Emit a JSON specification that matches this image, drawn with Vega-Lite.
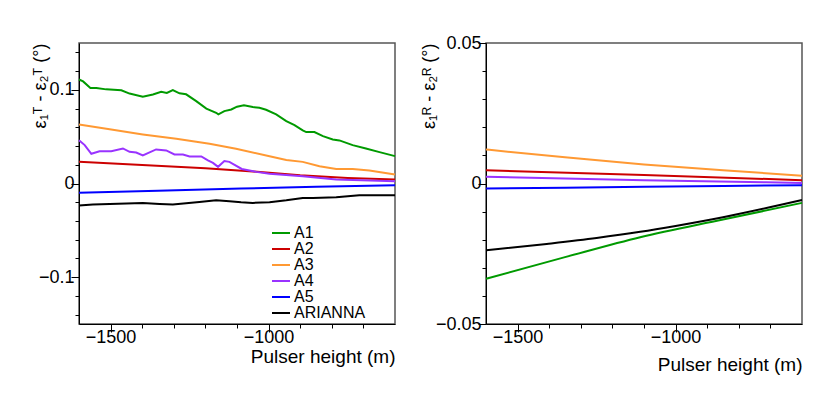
{
  "$schema": "https://vega.github.io/schema/vega-lite/v6.json",
  "background": "white",
  "padding": {"left": 30, "top": 33, "right": 5, "bottom": 5},
  "spacing": 91,
  "bounds": "flush",
  "config": {
    "font": "Liberation Sans",
    "view": {"stroke": "#555555", "strokeWidth": 1.5},
    "axis": {
      "grid": false,
      "domainColor": "black",
      "domainWidth": 1,
      "tickColor": "black",
      "tickWidth": 1,
      "labelColor": "black",
      "titleColor": "black",
      "labelFont": "Liberation Sans",
      "labelFontSize": 18,
      "titleFont": "Liberation Sans",
      "titleFontWeight": "normal"
    }
  },
  "resolve": {"scale": {"color": "independent"}},
  "datasets": {
    "left": [
      {"series": "A1", "x": -1600, "y": 0.111},
      {"series": "A1", "x": -1587, "y": 0.109},
      {"series": "A1", "x": -1564, "y": 0.102},
      {"series": "A1", "x": -1545, "y": 0.102},
      {"series": "A1", "x": -1514, "y": 0.1005},
      {"series": "A1", "x": -1466, "y": 0.0995},
      {"series": "A1", "x": -1440, "y": 0.096},
      {"series": "A1", "x": -1398, "y": 0.0926},
      {"series": "A1", "x": -1366, "y": 0.095},
      {"series": "A1", "x": -1340, "y": 0.098},
      {"series": "A1", "x": -1322, "y": 0.0966},
      {"series": "A1", "x": -1303, "y": 0.0998},
      {"series": "A1", "x": -1282, "y": 0.0963},
      {"series": "A1", "x": -1261, "y": 0.0952},
      {"series": "A1", "x": -1229, "y": 0.088},
      {"series": "A1", "x": -1197, "y": 0.080},
      {"series": "A1", "x": -1166, "y": 0.0755},
      {"series": "A1", "x": -1159, "y": 0.0738},
      {"series": "A1", "x": -1140, "y": 0.0773},
      {"series": "A1", "x": -1118, "y": 0.079},
      {"series": "A1", "x": -1100, "y": 0.082},
      {"series": "A1", "x": -1078, "y": 0.0835},
      {"series": "A1", "x": -1050, "y": 0.0816},
      {"series": "A1", "x": -1029, "y": 0.0809},
      {"series": "A1", "x": -1008, "y": 0.0787},
      {"series": "A1", "x": -976, "y": 0.0738},
      {"series": "A1", "x": -944, "y": 0.0666},
      {"series": "A1", "x": -918, "y": 0.0624},
      {"series": "A1", "x": -892, "y": 0.0567},
      {"series": "A1", "x": -881, "y": 0.0549},
      {"series": "A1", "x": -855, "y": 0.0549},
      {"series": "A1", "x": -828, "y": 0.0506},
      {"series": "A1", "x": -797, "y": 0.047},
      {"series": "A1", "x": -776, "y": 0.046},
      {"series": "A1", "x": -734, "y": 0.041},
      {"series": "A1", "x": -692, "y": 0.0374},
      {"series": "A1", "x": -649, "y": 0.0335},
      {"series": "A1", "x": -600, "y": 0.0292},
      {"series": "A2", "x": -1600, "y": 0.0231},
      {"series": "A2", "x": -1400, "y": 0.0198},
      {"series": "A2", "x": -1200, "y": 0.0162},
      {"series": "A2", "x": -1050, "y": 0.0128},
      {"series": "A2", "x": -900, "y": 0.0088},
      {"series": "A2", "x": -750, "y": 0.0060},
      {"series": "A2", "x": -600, "y": 0.0043},
      {"series": "A3", "x": -1600, "y": 0.0629},
      {"series": "A3", "x": -1503, "y": 0.0578},
      {"series": "A3", "x": -1398, "y": 0.0524},
      {"series": "A3", "x": -1292, "y": 0.0477},
      {"series": "A3", "x": -1187, "y": 0.0424},
      {"series": "A3", "x": -1103, "y": 0.037},
      {"series": "A3", "x": -997, "y": 0.0292},
      {"series": "A3", "x": -944, "y": 0.0252},
      {"series": "A3", "x": -892, "y": 0.0231},
      {"series": "A3", "x": -839, "y": 0.0185},
      {"series": "A3", "x": -786, "y": 0.0156},
      {"series": "A3", "x": -734, "y": 0.0156},
      {"series": "A3", "x": -681, "y": 0.0139},
      {"series": "A3", "x": -600, "y": 0.0096},
      {"series": "A4", "x": -1600, "y": 0.0463},
      {"series": "A4", "x": -1582, "y": 0.041},
      {"series": "A4", "x": -1561, "y": 0.0317},
      {"series": "A4", "x": -1535, "y": 0.0345},
      {"series": "A4", "x": -1498, "y": 0.0345},
      {"series": "A4", "x": -1461, "y": 0.0374},
      {"series": "A4", "x": -1440, "y": 0.0338},
      {"series": "A4", "x": -1419, "y": 0.0331},
      {"series": "A4", "x": -1398, "y": 0.0299},
      {"series": "A4", "x": -1356, "y": 0.0364},
      {"series": "A4", "x": -1324, "y": 0.0353},
      {"series": "A4", "x": -1298, "y": 0.031},
      {"series": "A4", "x": -1271, "y": 0.031},
      {"series": "A4", "x": -1250, "y": 0.0289},
      {"series": "A4", "x": -1213, "y": 0.0289},
      {"series": "A4", "x": -1192, "y": 0.0246},
      {"series": "A4", "x": -1176, "y": 0.022},
      {"series": "A4", "x": -1160, "y": 0.0178},
      {"series": "A4", "x": -1140, "y": 0.0239},
      {"series": "A4", "x": -1124, "y": 0.0231},
      {"series": "A4", "x": -1085, "y": 0.0155},
      {"series": "A4", "x": -1039, "y": 0.0124},
      {"series": "A4", "x": -997, "y": 0.0103},
      {"series": "A4", "x": -892, "y": 0.0078},
      {"series": "A4", "x": -786, "y": 0.0043},
      {"series": "A4", "x": -600, "y": 0.0025},
      {"series": "A5", "x": -1600, "y": -0.010},
      {"series": "A5", "x": -1350, "y": -0.0077},
      {"series": "A5", "x": -1087, "y": -0.0053},
      {"series": "A5", "x": -850, "y": -0.0035},
      {"series": "A5", "x": -600, "y": -0.0018},
      {"series": "ARIANNA", "x": -1600, "y": -0.0235},
      {"series": "ARIANNA", "x": -1556, "y": -0.0225},
      {"series": "ARIANNA", "x": -1503, "y": -0.0218},
      {"series": "ARIANNA", "x": -1450, "y": -0.0214},
      {"series": "ARIANNA", "x": -1398, "y": -0.0207},
      {"series": "ARIANNA", "x": -1345, "y": -0.0218},
      {"series": "ARIANNA", "x": -1303, "y": -0.0225},
      {"series": "ARIANNA", "x": -1261, "y": -0.021},
      {"series": "ARIANNA", "x": -1219, "y": -0.0197},
      {"series": "ARIANNA", "x": -1166, "y": -0.0179},
      {"series": "ARIANNA", "x": -1124, "y": -0.019},
      {"series": "ARIANNA", "x": -1087, "y": -0.020},
      {"series": "ARIANNA", "x": -1050, "y": -0.0207},
      {"series": "ARIANNA", "x": -997, "y": -0.020},
      {"series": "ARIANNA", "x": -944, "y": -0.0179},
      {"series": "ARIANNA", "x": -892, "y": -0.0154},
      {"series": "ARIANNA", "x": -860, "y": -0.0154},
      {"series": "ARIANNA", "x": -786, "y": -0.0147},
      {"series": "ARIANNA", "x": -713, "y": -0.0125},
      {"series": "ARIANNA", "x": -600, "y": -0.0125}
    ],
    "right": [
      {"series": "A1", "x": -1600, "y": -0.0339},
      {"series": "A1", "x": -1350, "y": -0.0262},
      {"series": "A1", "x": -1112, "y": -0.0191},
      {"series": "A1", "x": -850, "y": -0.0128},
      {"series": "A1", "x": -600, "y": -0.0069},
      {"series": "A2", "x": -1600, "y": 0.0047},
      {"series": "A2", "x": -1100, "y": 0.0030},
      {"series": "A2", "x": -600, "y": 0.0012},
      {"series": "A3", "x": -1600, "y": 0.0121},
      {"series": "A3", "x": -1350, "y": 0.0093},
      {"series": "A3", "x": -1100, "y": 0.0068},
      {"series": "A3", "x": -850, "y": 0.0047},
      {"series": "A3", "x": -600, "y": 0.0028},
      {"series": "A4", "x": -1600, "y": 0.0024},
      {"series": "A4", "x": -1100, "y": 0.0012},
      {"series": "A4", "x": -600, "y": 0.0002},
      {"series": "A5", "x": -1600, "y": -0.0018},
      {"series": "A5", "x": -1100, "y": -0.0012},
      {"series": "A5", "x": -600, "y": -0.0006},
      {"series": "ARIANNA", "x": -1600, "y": -0.0238},
      {"series": "ARIANNA", "x": -1408, "y": -0.0215},
      {"series": "ARIANNA", "x": -1250, "y": -0.0194},
      {"series": "ARIANNA", "x": -1112, "y": -0.0172},
      {"series": "ARIANNA", "x": -1000, "y": -0.0151},
      {"series": "ARIANNA", "x": -850, "y": -0.0120},
      {"series": "ARIANNA", "x": -600, "y": -0.0059}
    ]
  },
  "hconcat": [
    {
      "width": 316,
      "height": 281,
      "data": {"name": "left"},
      "resolve": {"axis": {"x": "independent", "y": "independent"}},
      "layer": [
        {
          "mark": {"type": "line", "strokeWidth": 2},
          "encoding": {
            "x": {
              "field": "x", "type": "quantitative",
              "scale": {"domain": [-1600, -600], "nice": false, "zero": false},
              "axis": {
                "orient": "bottom",
                "title": "Pulser height (m)",
                "values": [-1500, -1000],
                "format": "d",
                "tickSize": 8,
                "labelPadding": -4,
                "encode": {"ticks": {"update": {"y2": {"value": -8}}}},
                "titleFontSize": 19,
                "titleAnchor": "end", "titleAlign": "right", "titleBaseline": "middle",
                "titleX": 316, "titleY": 32
              }
            },
            "y": {
              "field": "y", "type": "quantitative",
              "scale": {"domain": [-0.15, 0.15], "nice": false, "zero": false},
              "axis": {
                "orient": "left",
                "title": "ε₁ᵀ - ε₂ᵀ (°)",
                "values": [-0.1, 0, 0.1],
                "format": ".2~f",
                "tickSize": 8,
                "labelPadding": -3,
                "encode": {"ticks": {"update": {"x2": {"value": 8}}}},
                "titleFontSize": 18,
                "titleAngle": -90, "titleAlign": "right", "titleBaseline": "middle",
                "titleX": -39, "titleY": 0
              }
            },
            "color": {
              "field": "series", "type": "nominal",
              "scale": {"domain": ["A1", "A2", "A3", "A4", "A5", "ARIANNA"], "range": ["#009a00", "#cc0000", "#ff9933", "#9933ff", "#0000ff", "#000000"]},
              "legend": {
                "orient": "none", "legendX": 194, "legendY": 182,
                "title": null, "symbolType": "M-1.8,0H1.8", "symbolSize": 100, "symbolStrokeWidth": 2,
                "labelFontSize": 16, "labelOffset": 5, "rowPadding": 0, "padding": 0,
                "labelColor": "black", "labelFont": "Liberation Sans"
              }
            }
          }
        },
        {
          "mark": {"type": "line", "opacity": 0},
          "encoding": {
            "x": {
              "field": "x", "type": "quantitative",
              "axis": {
                "orient": "bottom", "title": null, "labels": false, "domain": false,
                "values": [-1400, -1300, -1200, -1100, -900, -800, -700],
                "tickSize": 4,
                "encode": {"ticks": {"update": {"y2": {"value": -4}}}}
              }
            },
            "y": {
              "field": "y", "type": "quantitative",
              "axis": {
                "orient": "left", "title": null, "labels": false, "domain": false,
                "values": [-0.14, -0.12, -0.08, -0.06, -0.04, -0.02, 0.02, 0.04, 0.06, 0.08, 0.12, 0.14],
                "tickSize": 4,
                "encode": {"ticks": {"update": {"x2": {"value": 4}}}}
              }
            },
            "detail": {"field": "series", "type": "nominal"}
          }
        }
      ]
    },
    {
      "width": 316,
      "height": 281,
      "data": {"name": "right"},
      "resolve": {"axis": {"x": "independent", "y": "independent"}},
      "layer": [
        {
          "mark": {"type": "line", "strokeWidth": 2, "interpolate": "monotone"},
          "encoding": {
            "x": {
              "field": "x", "type": "quantitative",
              "scale": {"domain": [-1600, -600], "nice": false, "zero": false},
              "axis": {
                "orient": "bottom",
                "title": "Pulser height (m)",
                "values": [-1500, -1000],
                "format": "d",
                "tickSize": 8,
                "labelPadding": -4,
                "encode": {"ticks": {"update": {"y2": {"value": -8}}}},
                "titleFontSize": 19,
                "titleAnchor": "end", "titleAlign": "right", "titleBaseline": "middle",
                "titleX": 316, "titleY": 40
              }
            },
            "y": {
              "field": "y", "type": "quantitative",
              "scale": {"domain": [-0.05, 0.05], "nice": false, "zero": false},
              "axis": {
                "orient": "left",
                "title": "ε₁ᴿ - ε₂ᴿ (°)",
                "values": [-0.05, 0, 0.05],
                "format": ".2~f",
                "tickSize": 8,
                "labelPadding": -3,
                "encode": {"ticks": {"update": {"x2": {"value": 8}}}},
                "titleFontSize": 18,
                "titleAngle": -90, "titleAlign": "right", "titleBaseline": "middle",
                "titleX": -57, "titleY": 0
              }
            },
            "color": {
              "field": "series", "type": "nominal",
              "scale": {"domain": ["A1", "A2", "A3", "A4", "A5", "ARIANNA"], "range": ["#009a00", "#cc0000", "#ff9933", "#9933ff", "#0000ff", "#000000"]},
              "legend": null
            }
          }
        },
        {
          "mark": {"type": "line", "opacity": 0},
          "encoding": {
            "x": {
              "field": "x", "type": "quantitative",
              "axis": {
                "orient": "bottom", "title": null, "labels": false, "domain": false,
                "values": [-1400, -1300, -1200, -1100, -900, -800, -700],
                "tickSize": 4,
                "encode": {"ticks": {"update": {"y2": {"value": -4}}}}
              }
            },
            "y": {
              "field": "y", "type": "quantitative",
              "axis": {
                "orient": "left", "title": null, "labels": false, "domain": false,
                "values": [-0.04, -0.03, -0.02, -0.01, 0.01, 0.02, 0.03, 0.04],
                "tickSize": 4,
                "encode": {"ticks": {"update": {"x2": {"value": 4}}}}
              }
            },
            "detail": {"field": "series", "type": "nominal"}
          }
        }
      ]
    }
  ]
}
